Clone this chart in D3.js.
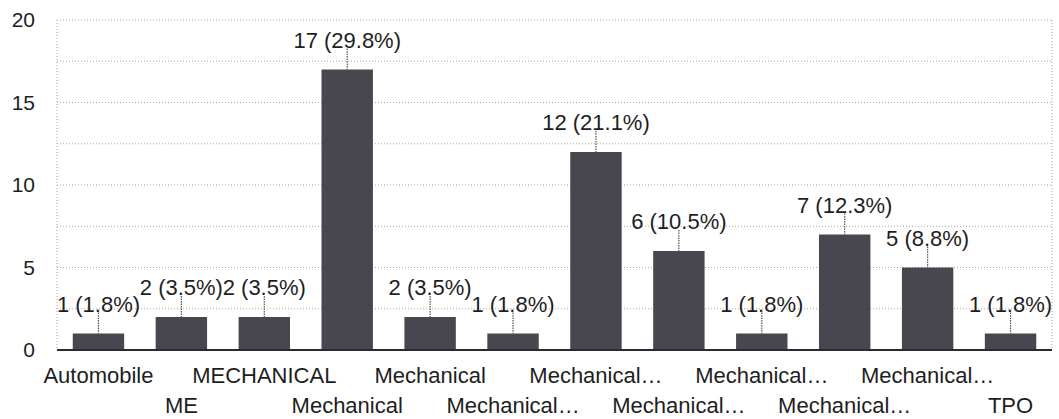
<!DOCTYPE html>
<html>
<head>
<meta charset="utf-8">
<script src="https://cdn.jsdelivr.net/npm/d3@7"></script>
<style>
  html, body { margin: 0; padding: 0; background: #ffffff; }
  svg { display: block; }
  text { font-family: "Liberation Sans", Arial, sans-serif; fill: #1e1e1e; }
</style>
</head>
<body>
<svg id="chart" width="1059" height="419"></svg>
<script>
const categories = ["Automobile", "ME", "MECHANICAL", "Mechanical", "Mechanical", "Mechanical…",
  "Mechanical…", "Mechanical…", "Mechanical…", "Mechanical…", "Mechanical…", "TPO"];
const values = [1, 2, 2, 17, 2, 1, 12, 6, 1, 7, 5, 1];
const yTicks = [0, 5, 10, 15, 20];
const gridTicks = [0, 2.5, 5, 7.5, 10, 12.5, 15, 17.5, 20];

const svg = d3.select("#chart");
const margin = { left: 57, right: 7, top: 20, bottom: 69 };
const W = 1059, H = 419;
const total = d3.sum(values);
const FONT = '"Liberation Sans", Arial, sans-serif';

const x = d3.scaleBand()
  .domain(d3.range(categories.length))
  .range([margin.left, W - margin.right])
  .paddingInner(0.38).paddingOuter(0.19);

const y = d3.scaleLinear().domain([0, 20]).range([H - margin.bottom, margin.top]);

// gridlines
svg.append("g").selectAll("line").data(gridTicks).join("line")
  .attr("x1", margin.left).attr("x2", W - margin.right)
  .attr("y1", d => y(d)).attr("y2", d => y(d))
  .attr("stroke", "#a8a8a8").attr("stroke-width", 1)
  .attr("stroke-dasharray", "1,2");

// side borders
[margin.left, W - margin.right].forEach(xx => {
  svg.append("line").attr("x1", xx).attr("x2", xx)
    .attr("y1", y(20)).attr("y2", y(0))
    .attr("stroke", "#a8a8a8").attr("stroke-dasharray", "1,2");
});

// y axis labels
const yAxis = d3.axisLeft(y).tickValues(yTicks).tickSize(0).tickPadding(22);
const gy = svg.append("g").attr("transform", `translate(${margin.left},0)`).call(yAxis);
gy.select(".domain").remove();
gy.selectAll("text").attr("font-size", 21).style("font-family", FONT).attr("fill", "#1e1e1e");

// bars
svg.append("g").selectAll("rect").data(values).join("rect")
  .attr("x", (d, i) => x(i))
  .attr("width", x.bandwidth())
  .attr("y", d => y(d))
  .attr("height", d => y(0) - y(d))
  .attr("fill", "#48474f");

// baseline
svg.append("line")
  .attr("x1", margin.left).attr("x2", W - margin.right)
  .attr("y1", y(0)).attr("y2", y(0))
  .attr("stroke", "#2a2a32").attr("stroke-width", 2);

// leader lines
svg.append("g").selectAll("line").data(values).join("line")
  .attr("x1", (d, i) => x(i) + x.bandwidth() / 2)
  .attr("x2", (d, i) => x(i) + x.bandwidth() / 2)
  .attr("y1", d => y(d) - 21).attr("y2", d => y(d))
  .attr("stroke", "#555").attr("stroke-width", 1.2)
  .attr("stroke-dasharray", "1.5,1");

// value labels
const pct = d3.format(".1f");
svg.append("g").selectAll("text").data(values).join("text")
  .attr("x", (d, i) => x(i) + x.bandwidth() / 2)
  .attr("y", d => y(d) - 22)
  .attr("text-anchor", "middle")
  .attr("font-size", 22)
  .text(d => `${d} (${pct(d / total * 100)}%)`);

// x labels, alternating rows
const xAxis = d3.axisBottom(x).tickSize(0).tickFormat(i => categories[i]);
const gx = svg.append("g").attr("transform", `translate(0,${y(0)})`).call(xAxis);
gx.select(".domain").remove();
gx.selectAll("text")
  .attr("font-size", 22)
  .style("font-family", FONT)
  .attr("fill", "#1e1e1e")
  .attr("dy", null)
  .attr("y", (i) => (i % 2 === 0 ? 33 : 63));
</script>
</body>
</html>
